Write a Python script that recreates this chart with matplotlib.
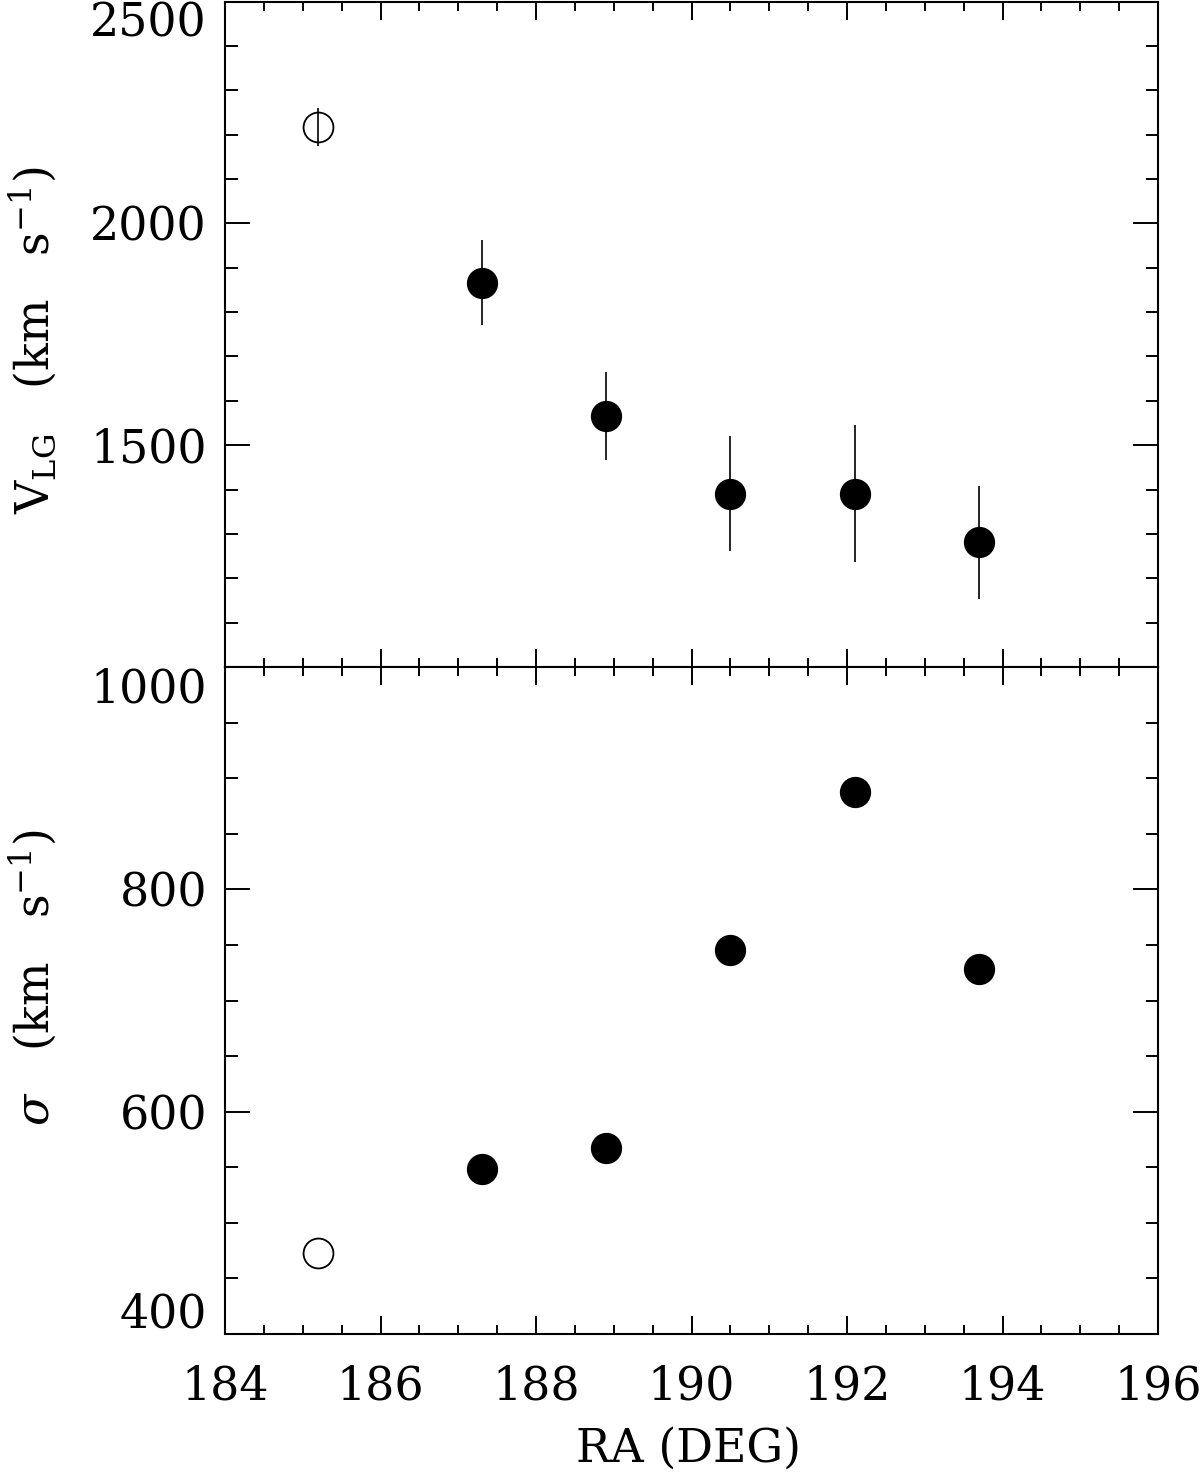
import matplotlib
matplotlib.use("Agg")
import matplotlib.pyplot as plt
from matplotlib.ticker import MultipleLocator, FixedLocator
from matplotlib.transforms import ScaledTranslation

# data
ra_open = [185.2]
v_open = [2217]
v_open_err = [43]
sig_open = [473]

ra = [187.3, 188.9, 190.5, 192.1, 193.7]
v_lg = [1866, 1565, 1391, 1391, 1281]
v_err = [96, 99, 130, 154, 128]
sigma = [548, 567, 745, 888, 728]

top_yticks = [1500, 2000, 2500]
bot_yticks = [400, 600, 800, 1000]
x_ticks = [184, 186, 188, 190, 192, 194, 196]

plt.rcParams['font.family'] = ['DejaVu Serif']
plt.rcParams['mathtext.fontset'] = 'dejavuserif'

W, H = 1200, 1477
fig = plt.figure(figsize=(W / 100, H / 100), dpi=100)
left = 225 / W
width = (1158 - 225) / W
top_ax = fig.add_axes([left, 1 - 667 / H, width, (667 - 1.5) / H])
bot_ax = fig.add_axes([left, 1 - 1334 / H, width, 667 / H])

fs = 33
ms = 21.5
for ax in (top_ax, bot_ax):
    ax.set_xlim(184, 196)
    ax.xaxis.set_major_locator(FixedLocator(x_ticks))
    ax.xaxis.set_minor_locator(MultipleLocator(0.5))
    ax.tick_params(axis='both', which='both', direction='in', top=True, right=True,
                   width=1.4, labelsize=fs, colors='black')
    ax.tick_params(axis='x', which='major', length=13, pad=22)
    ax.tick_params(axis='x', which='minor', length=6.5)
    ax.tick_params(axis='y', which='major', length=18, pad=13)
    ax.tick_params(axis='y', which='minor', length=9)
    for s in ax.spines.values():
        s.set_linewidth(1.5)

# top panel
top_ax.errorbar(ra, v_lg, yerr=v_err, fmt='o', color='black', ms=ms,
                elinewidth=1.2, capsize=0, zorder=3)
top_ax.errorbar(ra_open, v_open, yerr=v_open_err, fmt='o', mfc='none', mec='black',
                ecolor='black', ms=ms, mew=1.3, elinewidth=1.2, capsize=0, zorder=3)
top_ax.set_ylim(1000, 2500)
top_ax.yaxis.set_major_locator(FixedLocator(top_yticks))
top_ax.yaxis.set_minor_locator(MultipleLocator(100))
top_ax.tick_params(axis='x', labelbottom=False)

# bottom panel
bot_ax.plot(ra, sigma, 'o', color='black', ms=ms, zorder=3)
bot_ax.plot(ra_open, sig_open, 'o', mfc='none', mec='black', ms=ms, mew=1.3, zorder=3)
bot_ax.set_ylim(400, 1000)
bot_ax.yaxis.set_major_locator(FixedLocator(bot_yticks))
bot_ax.yaxis.set_minor_locator(MultipleLocator(50))

fig.canvas.draw()
# keep end labels inside their panels
top_ax.yaxis.get_major_ticks()[-1].label1.set_va('top')
bt = bot_ax.yaxis.get_major_ticks()
bt[0].label1.set_va('bottom')
bt[0].label1.set_transform(bt[0].label1.get_transform()
                           + ScaledTranslation(0, -4 / 100, fig.dpi_scale_trans))
bt[-1].label1.set_va('top')

# axis titles
fig.text(33 / W, 1 - 340 / H, r'V$_{\rm LG}$   (km   s$^{-1}$)', rotation=90,
         ha='center', va='center', fontsize=fs)
fig.text(33 / W, 1 - 978 / H, r'$\sigma$   (km   s$^{-1}$)', rotation=90,
         ha='center', va='center', fontsize=fs)
fig.text(689 / W, 1 - 1462 / H, 'RA (DEG)', ha='center', va='baseline', fontsize=fs)

fig.savefig('out.png', dpi=100)
